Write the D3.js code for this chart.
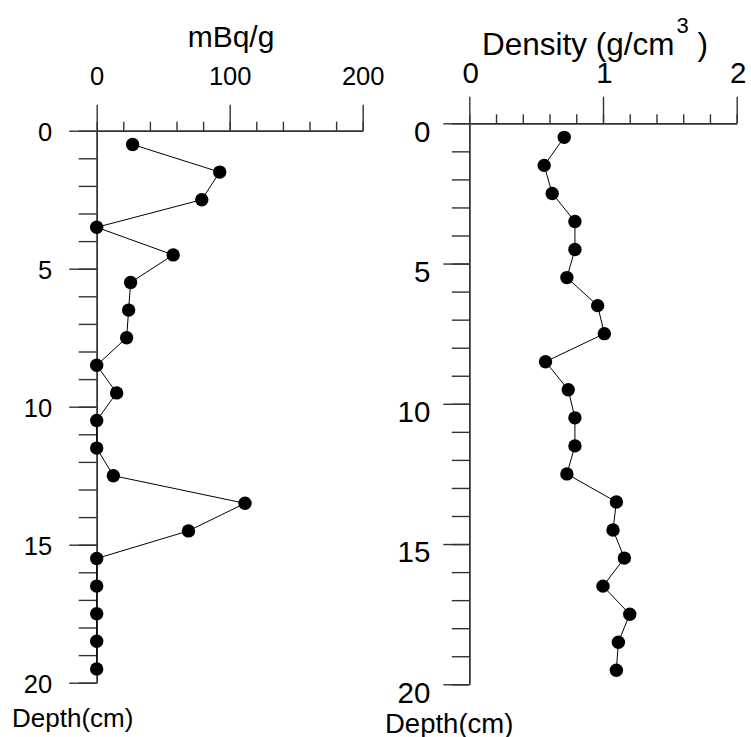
<!DOCTYPE html>
<html>
<head>
<meta charset="utf-8">
<script src="https://cdn.jsdelivr.net/npm/d3@7"></script>
<style>
  body { margin: 0; background: #fff; }
  svg text { font-family: "Liberation Sans", Arial, sans-serif; fill: #000; }
</style>
</head>
<body>
<svg id="chart" width="751" height="737"></svg>
<script>
// Sample mid-depths (cm) of each core slice
const depths = [0.5, 1.5, 2.5, 3.5, 4.5, 5.5, 6.5, 7.5, 8.5, 9.5,
                10.5, 11.5, 12.5, 13.5, 14.5, 15.5, 16.5, 17.5, 18.5, 19.5];
// Activity per slice (mBq/g)
const activity = [27, 92.5, 79, 0, 57.5, 25.5, 24, 22.5, 0, 15,
                  0, 0, 12.5, 111.5, 69, 0, 0, 0, 0, 0];
// Dry bulk density per slice (g/cm3)
const density = [0.71, 0.56, 0.62, 0.79, 0.79, 0.73, 0.96, 1.01, 0.57, 0.74,
                 0.79, 0.79, 0.73, 1.10, 1.075, 1.16, 1.0, 1.20, 1.115, 1.10];
// Tick labels
const activityTicks = [0, 100, 200];
const densityTicks = [0, 1, 2];
const depthTicks = [0, 5, 10, 15, 20];

const svg = d3.select("#chart");

function drawPanel(opt) {
  const x = d3.scaleLinear().domain(opt.xDomain).range([opt.left, opt.right]);
  const y = d3.scaleLinear().domain([0, 20]).range([opt.top, opt.bottom]);
  const g = svg.append("g");

  const style = sel => {
    sel.selectAll("path, line").attr("stroke", "#333").attr("stroke-width", 1.4);
    sel.selectAll("text").attr("fill", "#000").style("font-size", opt.tickFont + "px");
  };

  // top value axis: minor then major ticks
  g.append("g").attr("transform", `translate(0,${opt.top})`)
    .call(d3.axisTop(x).tickValues(d3.range(opt.xDomain[0], opt.xDomain[1] + 1e-9, opt.xMinor))
      .tickSize(9).tickSizeOuter(0).tickFormat(""))
    .call(style);
  g.append("g").attr("transform", `translate(0,${opt.top})`)
    .call(d3.axisTop(x).tickValues(opt.xTicks).tickSize(opt.xMajorLen).tickSizeOuter(0)
      .tickPadding(opt.xPad).tickFormat(d3.format("d")))
    .call(style)
    .call(s => s.selectAll("text").attr("dx", opt.xLabelDx || 0));

  // left depth axis: minor then major ticks
  g.append("g").attr("transform", `translate(${opt.left},0)`)
    .call(d3.axisLeft(y).tickValues(d3.range(0, 21, 1)).tickSize(opt.yMinorLen)
      .tickSizeOuter(0).tickFormat(""))
    .call(style);
  g.append("g").attr("transform", `translate(${opt.left},0)`)
    .call(d3.axisLeft(y).tickValues(depthTicks).tickSize(opt.yMajorLen).tickSizeOuter(0)
      .tickPadding(opt.yPad).tickFormat(d3.format("d")))
    .call(style)
    .call(s => s.selectAll("text").attr("dy", opt.yLabelDy));

  // profile line and markers
  const pts = depths.map((d, i) => [x(opt.values[i]), y(d)]);
  g.append("path")
    .attr("d", d3.line()(pts))
    .attr("fill", "none").attr("stroke", "#000").attr("stroke-width", 1);
  g.selectAll("circle.pt").data(pts).join("circle")
    .attr("class", "pt")
    .attr("cx", d => d[0]).attr("cy", d => d[1]).attr("r", 6.7)
    .attr("fill", "#000");

  // depth axis name
  g.append("text").attr("x", opt.depthLabel[0]).attr("y", opt.depthLabel[1])
    .style("font-size", opt.depthFont + "px").text("Depth(cm)");
  return g;
}

const left = drawPanel({
  xDomain: [0, 200], xMinor: 20, xTicks: activityTicks, values: activity,
  left: 96.7, right: 362.7, top: 130.7, bottom: 682.7,
  xMajorLen: 26, yMajorLen: 27.5, yMinorLen: 18,
  xPad: 20, yPad: 17, tickFont: 25.5, yLabelDy: "0.4em",
  depthLabel: [12, 727], depthFont: 26
});
left.append("text").attr("x", 231).attr("y", 47).attr("text-anchor", "middle")
  .style("font-size", "30px").text("mBq/g");

const right = drawPanel({
  xDomain: [0, 2], xMinor: 0.2, xTicks: densityTicks, values: density,
  left: 469.3, right: 736.7, top: 123.3, bottom: 684.3,
  xMajorLen: 26.6, yMajorLen: 26, yMinorLen: 17.5,
  xPad: 14, yPad: 13, tickFont: 29.5, yLabelDy: "0.6em", xLabelDx: 1,
  depthLabel: [385, 733], depthFont: 27.5
});
const title = right.append("text").attr("x", 482).attr("y", 55).style("font-size", "31.5px");
title.append("tspan").text("Density (g/cm");
title.append("tspan").attr("dx", 2).attr("dy", -22).style("font-size", "22px").text("3");
title.append("tspan").attr("dy", 22).text(" )");
</script>
</body>
</html>
